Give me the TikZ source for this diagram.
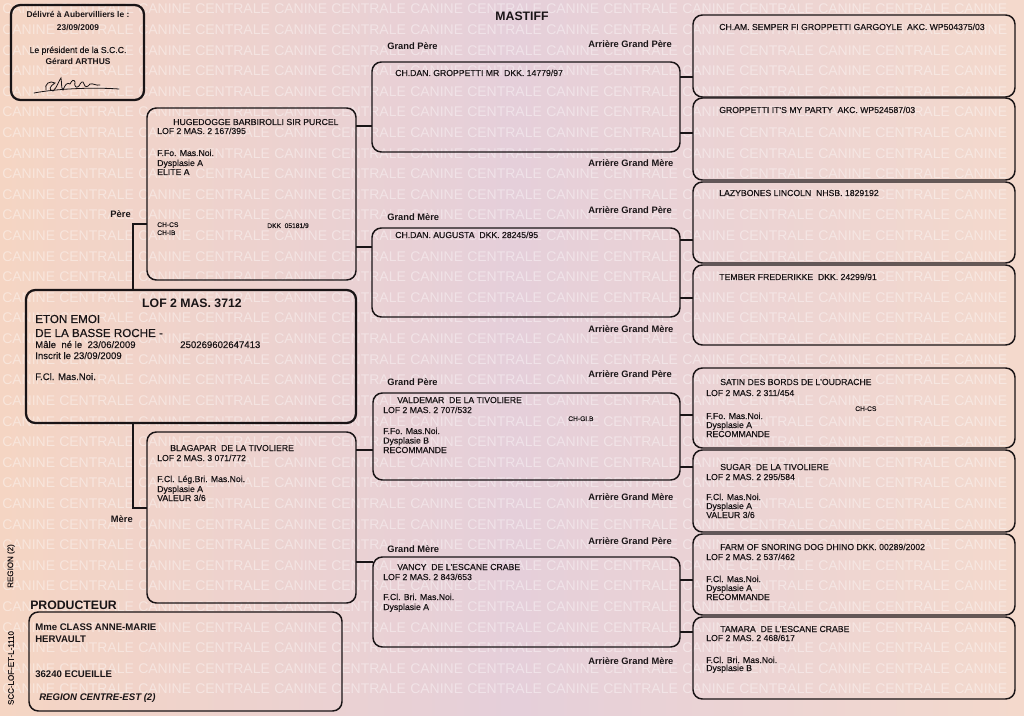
\documentclass[tikz,border=0pt]{standalone}
\usepackage{fontspec}
\setmainfont{Liberation Sans}
\newfontfamily\medfont{Liberation Sans}[FakeBold=0.35]
\usetikzlibrary{fit}
\definecolor{paperL}{RGB}{245,213,195}
\definecolor{paperM}{RGB}{229,207,218}
\definecolor{paperR}{RGB}{244,217,204}
\definecolor{ink}{RGB}{25,20,22}
\tikzset{
  box/.style={draw=ink, rounded corners=7pt, line width=1.1pt, inner sep=0pt, outer sep=0pt},
  boxthick/.style={box, line width=1.7pt},
  wire/.style={draw=ink, line width=1.1pt},
  dat/.style={text=ink, font=\medfont\fontsize{6.5}{7}\selectfont, inner sep=0pt, anchor=base west},
  sml/.style={text=ink, font=\medfont\fontsize{5}{6}\selectfont, inner sep=0pt, anchor=base west},
  lbl/.style={text=ink, font=\bfseries\fontsize{7}{8}\selectfont, inner sep=0pt, anchor=base west},
  ttl/.style={text=ink, font=\bfseries\fontsize{9.2}{10}\selectfont, inner sep=0pt},
  big/.style={text=ink, font=\medfont\fontsize{8.7}{10}\selectfont, inner sep=0pt, anchor=base west},
  mid/.style={text=ink, font=\medfont\fontsize{7.2}{8}\selectfont, inner sep=0pt, anchor=base west},
  prd/.style={text=ink, font=\bfseries\fontsize{7.2}{8}\selectfont, inner sep=0pt, anchor=base west},
  sig/.style={text=ink, font=\medfont\fontsize{6.5}{7}\selectfont, inner sep=0pt, anchor=base},
  sigb/.style={sig, font=\bfseries\fontsize{6.3}{7}\selectfont},
  wm/.style={text=white, text opacity=0.4, font=\fontsize{10.5}{12}\selectfont, inner sep=0pt, anchor=base west},
  side/.style={text=ink, font=\medfont\fontsize{6}{7}\selectfont, inner sep=0pt, rotate=90}
}
\begin{document}
\begin{tikzpicture}[x=0.75pt,y=-0.75pt]
\useasboundingbox (0,0) rectangle (1024,716);
\shade[left color=paperL, right color=paperR, middle color=paperM] (0,0) rectangle (1024,716);
% watermark of the paper
\foreach \r in {0,...,33}{
  \foreach \k in {0,...,7}
    \node[wm] (wa-\r-\k) at (2+\k*136,14+\r*20.6) {CANINE};
  \foreach \k in {0,...,6}
    \node[wm] (wb-\r-\k) at (59+\k*136,14+\r*20.6) {CENTRALE};
}

% ---------- boxes ----------
\node[boxthick, fit={(11,5) (144,100)}] (deliv) {};
\node[box, fit={(147,108) (356,280)}] (pere) {};
\node[boxthick, fit={(26,290) (356,423)}] (subj) {};
\node[box, fit={(147,432) (356,603)}] (mere) {};
\node[box, fit={(372,62) (680,152)}] (gp1) {};
\node[box, fit={(372,228) (680,317)}] (gm1) {};
\node[box, fit={(373,393) (680,480)}] (gp2) {};
\node[box, fit={(373,557) (680,647)}] (gm2) {};
\node[box, fit={(693,15) (1015,97)}] (agp1) {};
\node[box, fit={(693,98) (1015,180)}] (agp2) {};
\node[box, fit={(693,182) (1015,263)}] (agp3) {};
\node[box, fit={(693,265) (1015,345)}] (agp4) {};
\node[box, fit={(693,368) (1015,448)}] (agp5) {};
\node[box, fit={(693,450) (1015,532)}] (agp6) {};
\node[box, fit={(693,534) (1015,615)}] (agp7) {};
\node[box, fit={(693,617) (1015,699)}] (agp8) {};
\node[box, fit={(29,612) (342,711)}] (prod) {};

% ---------- connectors ----------
\draw[wire] (subj.north -| 133,0) |- (pere.west |- 0,224);
\draw[wire] (subj.south -| 133,0) |- (mere.west |- 0,508);
\draw[wire] (pere.east |- 0,126) -- (gp1.west |- 0,126);
\draw[wire] (pere.east |- 0,247) -- (gm1.west |- 0,247);
\draw[wire] (mere.east |- 0,450) -- (gp2.west |- 0,450);
\draw[wire] (mere.east |- 0,562) -- (gm2.west |- 0,562);
\draw[wire] (gp1.east |- 0,77) -- (agp1.west |- 0,77);
\draw[wire] (gp1.east |- 0,133) -- (agp2.west |- 0,133);
\draw[wire] (gm1.east |- 0,240) -- (agp3.west |- 0,240);
\draw[wire] (gm1.east |- 0,298) -- (agp4.west |- 0,298);
\draw[wire] (gp2.east |- 0,415) -- (agp5.west |- 0,415);
\draw[wire] (gp2.east |- 0,467) -- (agp6.west |- 0,467);
\draw[wire] (gm2.east |- 0,580) -- (agp7.west |- 0,580);
\draw[wire] (gm2.east |- 0,632) -- (agp8.west |- 0,632);

% ---------- delivery box ----------
\node[sigb] (d1) at (78,18) {Délivré à Aubervilliers le :};
\node[sigb] (d2) at (78,31) {23/09/2009};
\node[sig] (d3) at (78,53) {Le président de la S.C.C.};
\node[sigb] (d4) at (78,65) {Gérard ARTHUS};
\draw[ink, line width=0.6pt, line cap=round]
  (34,93) .. controls (55,89) and (90,87) .. (119,89);
\draw[ink, line width=0.6pt, line cap=round]
  (46,90) .. controls (44,84) and (50,80) .. (55,83)
  .. controls (50,86) and (48,90) .. (53,91)
  .. controls (57,88) and (59,80) .. (61,78)
  .. controls (62,84) and (61,88) .. (63,90)
  .. controls (65,85) and (67,82) .. (70,84)
  .. controls (72,80) and (74,79) .. (75,82)
  .. controls (74,86) and (76,89) .. (79,86)
  .. controls (81,82) and (83,80) .. (84,84)
  .. controls (85,88) and (88,87) .. (90,84)
  .. controls (93,83) and (96,86) .. (100,85);

% ---------- title & labels ----------
\node[ttl, anchor=base] (title) at (522,21) {MASTIFF};
\node[lbl, anchor=base east] (lpere) at (131,218) {Père};
\node[lbl, anchor=base east] (lmere) at (133,522) {Mère};
\node[lbl] (lgp1) at (387,50) {Grand Père};
\node[lbl] (lgm1) at (387,221) {Grand Mère};
\node[lbl] (lgp2) at (387,386) {Grand Père};
\node[lbl] (lgm2) at (387,552) {Grand Mère};
\node[lbl] (la1) at (588,48) {Arrière Grand Père};
\node[lbl] (la2) at (588,167) {Arrière Grand Mère};
\node[lbl] (la3) at (588,214) {Arrière Grand Père};
\node[lbl] (la4) at (588,333) {Arrière Grand Mère};
\node[lbl] (la5) at (588,378) {Arrière Grand Père};
\node[lbl] (la6) at (588,500) {Arrière Grand Mère};
\node[lbl] (la7) at (588,544) {Arrière Grand Père};
\node[lbl] (la8) at (588,664) {Arrière Grand Mère};

% ---------- subject ----------
\node[ttl, anchor=base] (s0) at (192,308) {LOF 2 MAS. 3712};
\node[big] (s1) at (35,323) {ETON EMOI};
\node[big] (s2) at (35,337) {DE LA BASSE ROCHE -};
\node[mid] (s3) at (35,348) {Mâle\ \ né le\ \ 23/06/2009};
\node[mid] (s4) at (180,348) {250269602647413};
\node[mid] (s5) at (35,359) {Inscrit le 23/09/2009};
\node[mid] (s6) at (35,380) {F.Cl. Mas.Noi.};

% ---------- father ----------
\node[dat] (p1) at (173,125) {HUGEDOGGE BARBIROLLI SIR PURCEL};
\node[dat] (p2) at (157,134) {LOF 2 MAS. 2 167/395};
\node[dat] (p3) at (157,156) {F.Fo. Mas.Noi.};
\node[dat] (p4) at (157,166) {Dysplasie A};
\node[dat] (p5) at (157,175) {ELITE A};
\node[sml] (p6) at (157,227) {CH-CS};
\node[sml] (p7) at (157,235) {CH-IB};
\node[sml] (p8) at (267,228) {DKK\ \ 05181/9};

% ---------- mother ----------
\node[dat] (m1) at (170,451) {BLAGAPAR\ \ DE LA TIVOLIERE};
\node[dat] (m2) at (157,461) {LOF 2 MAS. 3 071/772};
\node[dat] (m3) at (157,482) {F.Cl. Lég.Bri. Mas.Noi.};
\node[dat] (m4) at (157,492) {Dysplasie A};
\node[dat] (m5) at (157,501) {VALEUR 3/6};

% ---------- grandparents ----------
\node[dat] (g1) at (395,76) {CH.DAN. GROPPETTI MR\ \ DKK. 14779/97};
\node[dat] (g2) at (395,238) {CH.DAN. AUGUSTA\ \ DKK. 28245/95};
\node[dat] (g3a) at (397,403) {VALDEMAR\ \ DE LA TIVOLIERE};
\node[dat] (g3b) at (383,413) {LOF 2 MAS. 2 707/532};
\node[sml] (g3c) at (568,421) {CH-GI.B};
\node[dat] (g3d) at (383,434) {F.Fo. Mas.Noi.};
\node[dat] (g3e) at (383,443.5) {Dysplasie B};
\node[dat] (g3f) at (383,453) {RECOMMANDE};
\node[dat] (g4a) at (397,570) {VANCY\ \ DE L'ESCANE CRABE};
\node[dat] (g4b) at (383,580) {LOF 2 MAS. 2 843/653};
\node[dat] (g4c) at (383,600) {F.Cl. Bri. Mas.Noi.};
\node[dat] (g4d) at (383,610) {Dysplasie A};

% ---------- great-grandparents ----------
\node[dat] (a1) at (719,30) {CH.AM. SEMPER FI GROPPETTI GARGOYLE\ \ AKC. WP504375/03};
\node[dat] (a2) at (719,113) {GROPPETTI IT'S MY PARTY\ \ AKC. WP524587/03};
\node[dat] (a3) at (719,196) {LAZYBONES LINCOLN\ \ NHSB. 1829192};
\node[dat] (a4) at (719,280) {TEMBER FREDERIKKE\ \ DKK. 24299/91};

\node[dat] (a5a) at (720,385) {SATIN DES BORDS DE L'OUDRACHE};
\node[dat] (a5b) at (706,396) {LOF 2 MAS. 2 311/454};
\node[sml] (a5c) at (855,411) {CH-CS};
\node[dat] (a5d) at (706,419) {F.Fo. Mas.Noi.};
\node[dat] (a5e) at (706,428) {Dysplasie A};
\node[dat] (a5f) at (706,437) {RECOMMANDE};

\node[dat] (a6a) at (720,470) {SUGAR\ \ DE LA TIVOLIERE};
\node[dat] (a6b) at (706,480) {LOF 2 MAS. 2 295/584};
\node[dat] (a6c) at (706,500) {F.Cl. Mas.Noi.};
\node[dat] (a6d) at (706,509) {Dysplasie A};
\node[dat] (a6e) at (706,518) {VALEUR 3/6};

\node[dat] (a7a) at (720,550) {FARM OF SNORING DOG DHINO DKK. 00289/2002};
\node[dat] (a7b) at (706,560) {LOF 2 MAS. 2 537/462};
\node[dat] (a7c) at (706,582) {F.Cl. Mas.Noi.};
\node[dat] (a7d) at (706,591) {Dysplasie A};
\node[dat] (a7e) at (706,600) {RECOMMANDE};

\node[dat] (a8a) at (720,632) {TAMARA\ \ DE L'ESCANE CRABE};
\node[dat] (a8b) at (706,641) {LOF 2 MAS. 2 468/617};
\node[dat] (a8c) at (706,663) {F.Cl. Bri. Mas.Noi.};
\node[dat] (a8d) at (706,671) {Dysplasie B};

% ---------- producer ----------
\node[ttl, anchor=base west] (prodt) at (30,609) {PRODUCTEUR};
\node[prd] (r1) at (35,630) {Mme CLASS ANNE-MARIE};
\node[prd] (r2) at (35,642) {HERVAULT};
\node[prd] (r3) at (35,677) {36240 ECUEILLE};
\node[prd, font=\bfseries\itshape\fontsize{7.2}{8}\selectfont] (r4) at (39,700) {REGION CENTRE-EST (2)};

% ---------- side marks ----------
\node[side] (side1) at (11,566) {REGION (2)};
\node[side] (side2) at (11,668) {SCC-LOF-ET-L-1110};
\end{tikzpicture}
\end{document}
